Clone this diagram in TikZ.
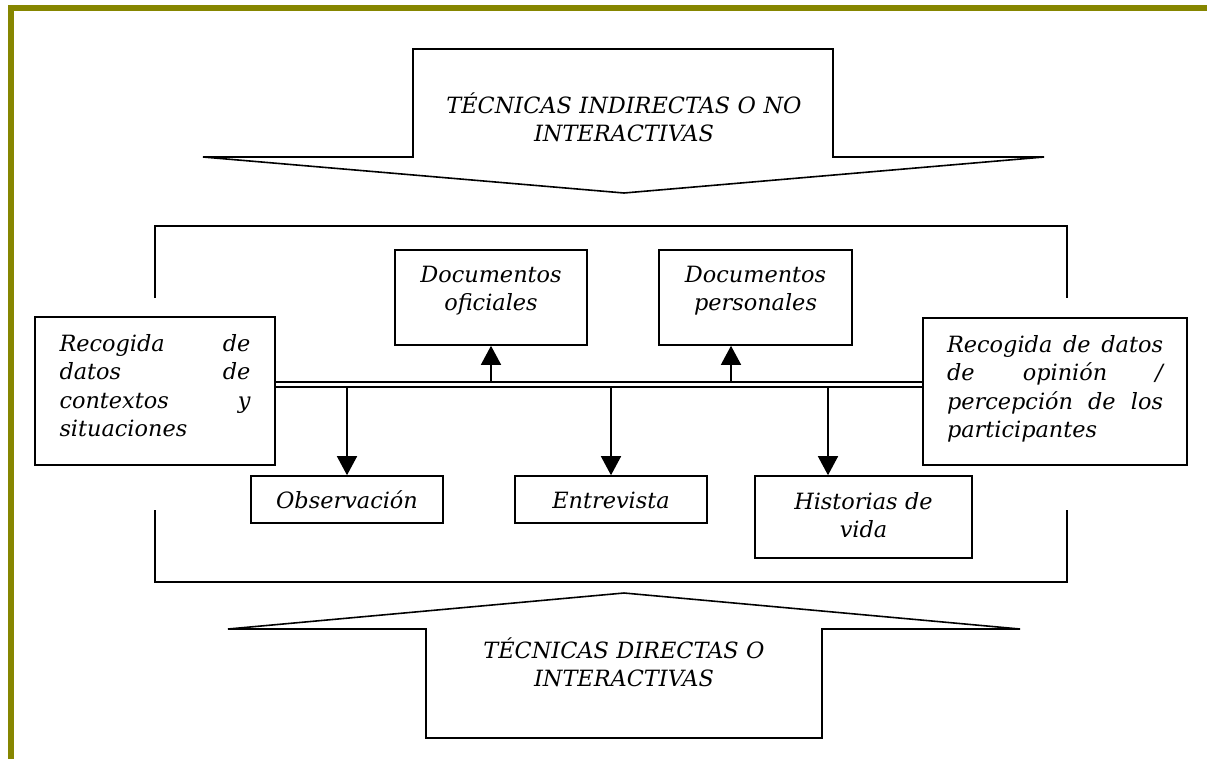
\documentclass[tikz,border=0pt]{standalone}
\usepackage{fontspec}
\setmainfont{DejaVu Serif}
\usetikzlibrary{arrows.meta}
\definecolor{frameolive}{RGB}{134,134,0}
% a justified line of fixed width: words spread with \hfill
\newcommand{\fullline}[2]{\makebox[#1][l]{#2}}
\begin{document}
\begin{tikzpicture}[x=1pt,y=-1pt,
  box/.style={draw, line width=1.6pt, rectangle, inner sep=0pt,
    font=\itshape\fontsize{22.4}{28.5}\selectfont},
  outline/.style={draw, line width=1.6pt, line join=miter},
  arrowtext/.style={inner sep=0pt, anchor=base, text width=380pt, align=center,
    font=\itshape\fontsize{22.4}{28.5}\selectfont},
  arr/.style={line width=1.5pt, -{Triangle[width=20pt,length=19pt]}},
  bus/.style={line width=1.7pt, double distance=3.3pt},
  frame/.style={draw=frameolive, line width=6pt, line join=miter},
]
\useasboundingbox (0,0) rectangle (1207,758);

% page frame
\draw[frame] (11,770) -- (11,8) -- (1215,8);

% upper block arrow (pointing down)
\draw[outline] (413,49) -- (833,49) -- (833,157) -- (1044,157) -- (624,193)
  -- (203,157) -- (413,157) -- cycle;
\node[arrowtext] (indirect) at (624,113) {TÉCNICAS INDIRECTAS O NO\\INTERACTIVAS};

% lower block arrow (pointing up)
\draw[outline] (624,593) -- (1020,629) -- (822,629) -- (822,738) -- (426,738)
  -- (426,629) -- (228,629) -- cycle;
\node[arrowtext] (direct) at (624,658) {TÉCNICAS DIRECTAS O\\INTERACTIVAS};

% brackets around the central area
\draw[outline] (155,298) -- (155,226) -- (1067,226) -- (1067,298);
\draw[outline] (155,510) -- (155,582) -- (1067,582) -- (1067,510);

% side boxes
\node[box, text width=191pt, inner xsep=24.5pt, text height=34pt, text depth=114pt,
  align=left] (ctx) at (155,391)
  {\fullline{191pt}{Recogida\hfill de}\\\fullline{191pt}{datos\hfill de}\\
   \fullline{191pt}{contextos\hfill y}\\situaciones};
\node[box, text width=216pt, inner xsep=24pt, text height=34pt, text depth=113pt,
  align=left] (opn) at (1055,391.5)
  {\fullline{216pt}{Recogida\hfill de\hfill datos}\\\fullline{216pt}{de\hfill opinión\hfill /}\\
   \fullline{216pt}{percepción\hfill de\hfill los}\\participantes};

% upper boxes
\node[box, text width=192pt, text height=32pt, text depth=63pt, align=center]
  (ofi) at (491,297.5) {Documentos\\oficiales};
\node[box, text width=193pt, text height=32pt, text depth=63pt, align=center]
  (per) at (755.5,297.5) {Documentos\\personales};

% lower boxes
\node[box, text width=192pt, text height=32pt, text depth=15pt, align=center]
  (obs) at (347,499.5) {Observación};
\node[box, text width=192pt, text height=32pt, text depth=15pt, align=center]
  (ent) at (611,499.5) {Entrevista};
\node[box, text width=217pt, text height=33pt, text depth=49pt, align=center]
  (his) at (863.5,517) {Historias de\\vida};

% central double line
\coordinate (busM) at (0,384.2);
\coordinate (busT) at (0,381.7);
\coordinate (busB) at (0,386.7);
\draw[bus] (ctx.east |- busM) -- (opn.west |- busM);

% arrows from the double line
\draw[arr] (ofi.south |- busT) -- (ofi.south);
\draw[arr] ([xshift=-24.5pt]per.south |- busT) -- ([xshift=-24.5pt]per.south);
\draw[arr] (obs.north |- busB) -- (obs.north);
\draw[arr] (ent.north |- busB) -- (ent.north);
\draw[arr] ([xshift=-35.5pt]his.north |- busB) -- ([xshift=-35.5pt]his.north);
\end{tikzpicture}
\end{document}
